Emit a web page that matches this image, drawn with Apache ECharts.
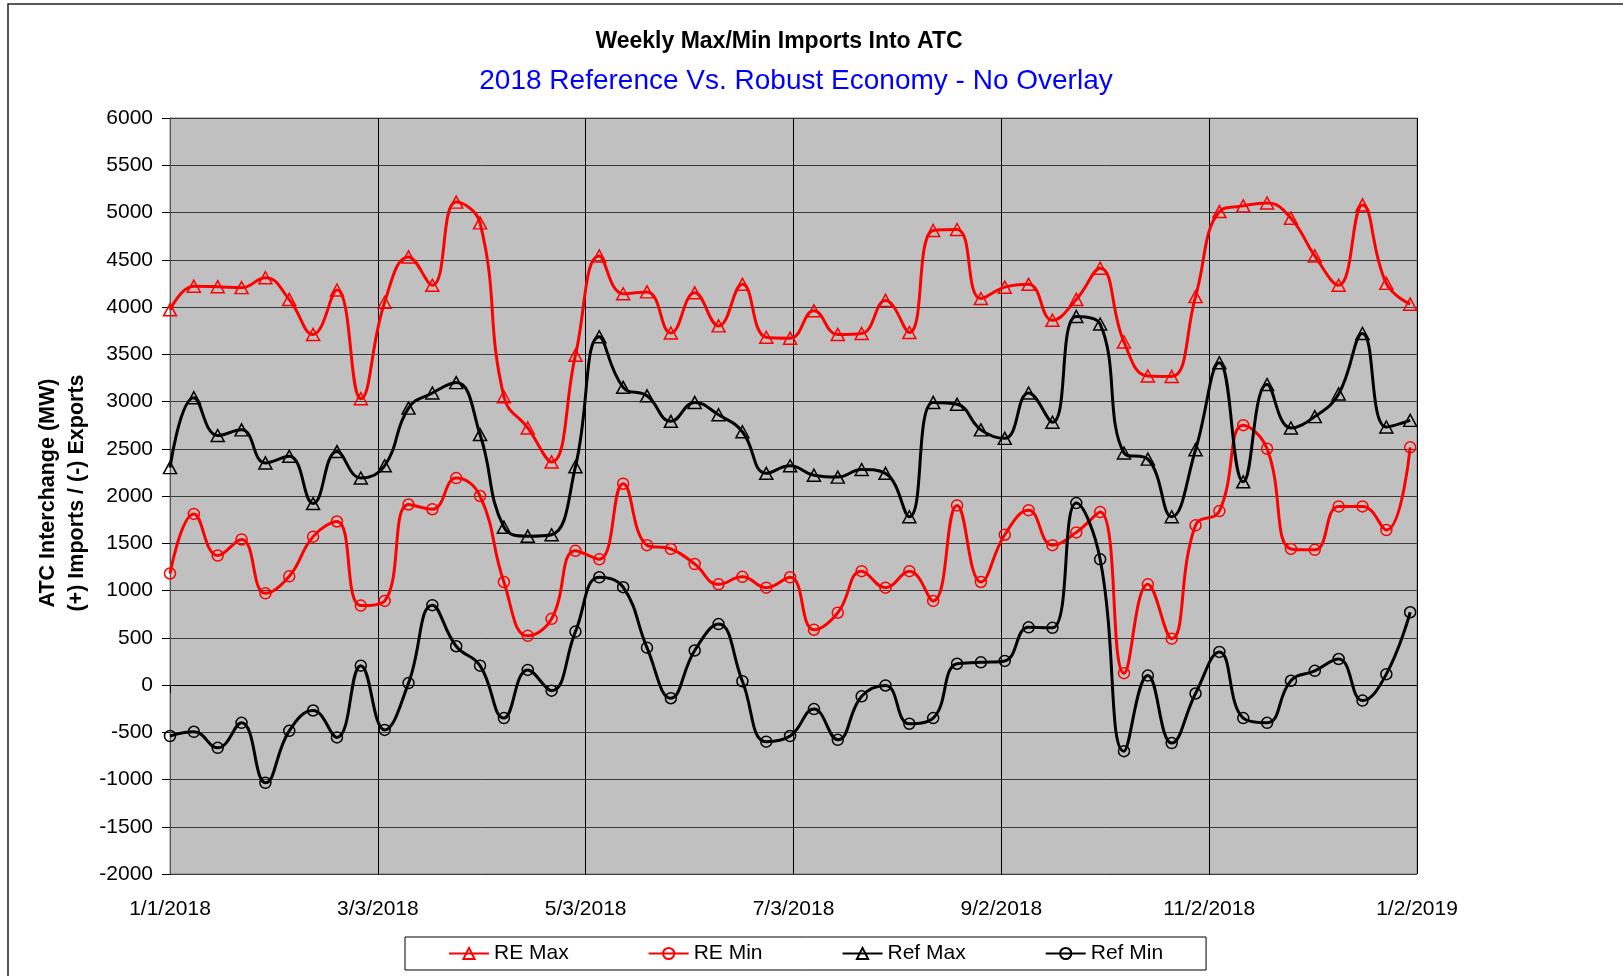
<!DOCTYPE html>
<html>
<head>
<meta charset="utf-8">
<script src="https://cdn.jsdelivr.net/npm/echarts@6/dist/echarts.min.js"></script>
<style>
  html, body { margin: 0; padding: 0; background: #fff; }
  #chart { width: 1623px; height: 976px; }
</style>
</head>
<body>
<div id="chart"></div>
<script>
// weekly sample dates (Mondays of 2018)
const weeks = [
  '2018-01-01', '2018-01-08', '2018-01-15', '2018-01-22', '2018-01-29',
  '2018-02-05', '2018-02-12', '2018-02-19', '2018-02-26',
  '2018-03-05', '2018-03-12', '2018-03-19', '2018-03-26',
  '2018-04-02', '2018-04-09', '2018-04-16', '2018-04-23', '2018-04-30',
  '2018-05-07', '2018-05-14', '2018-05-21', '2018-05-28',
  '2018-06-04', '2018-06-11', '2018-06-18', '2018-06-25',
  '2018-07-02', '2018-07-09', '2018-07-16', '2018-07-23', '2018-07-30',
  '2018-08-06', '2018-08-13', '2018-08-20', '2018-08-27',
  '2018-09-03', '2018-09-10', '2018-09-17', '2018-09-24',
  '2018-10-01', '2018-10-08', '2018-10-15', '2018-10-22', '2018-10-29',
  '2018-11-05', '2018-11-12', '2018-11-19', '2018-11-26',
  '2018-12-03', '2018-12-10', '2018-12-17', '2018-12-24', '2018-12-31'
]

const reMax = [3970, 4220, 4215, 4205, 4310, 4080, 3710, 4180, 3030, 4050, 4530, 4230, 5110, 4890, 3050, 2720, 2360, 3490,
  4540, 4140, 4160, 3725, 4150, 3800, 4240, 3680, 3670, 3960, 3710, 3720, 4070, 3730, 4810, 4820, 4090, 4210,
  4240, 3860, 4080, 4410, 3630, 3270, 3265, 4110, 5010, 5070, 5100, 4940, 4540, 4230, 5080, 4250, 4030]

const reMin = [1180, 1810, 1370, 1540, 970, 1150, 1570, 1730, 840, 890, 1910, 1860, 2190, 2000, 1090, 520, 700, 1420,
  1330, 2130, 1480, 1440, 1280, 1065, 1145, 1030, 1140, 585, 765, 1205, 1030, 1205, 890, 1900, 1090, 1590,
  1850, 1480, 1615, 1830, 125, 1065, 490, 1690, 1840, 2750, 2500, 1440, 1430, 1890, 1890, 1640, 2515]

const refMax = [2300, 3040, 2640, 2700, 2350, 2420, 1920, 2470, 2190, 2320, 2930, 3090, 3200, 2650, 1670, 1575, 1590, 2310,
  3685, 3150, 3060, 2790, 2990, 2860, 2680, 2240, 2320, 2220, 2200, 2280, 2240, 1780, 2990, 2970, 2700, 2610,
  3090, 2780, 3900, 3820, 2455, 2390, 1780, 2490, 3410, 2150, 3180, 2720, 2840, 3080, 3720, 2730, 2800]

const refMin = [-540, -495, -665, -400, -1035, -485, -270, -555, 205, -475, 20, 845, 410, 205, -350, 160, -60, 565,
  1140, 1035, 395, -140, 365, 645, 40, -600, -540, -255, -580, -120, -5, -410, -350, 225, 240, 255,
  610, 605, 1925, 1330, -700, 100, -615, -90, 350, -350, -400, 45, 150, 275, -165, 115, 770]

// x axis: days since 1/1/2018, a tick every 61 days
const xTickLabels = ['1/1/2018', '3/3/2018', '5/3/2018', '7/3/2018', '9/2/2018', '11/2/2018', '1/2/2019']

const start = Date.UTC(2018, 0, 1)
const dayOf = (s) => (Date.parse(s + 'T00:00:00Z') - start) / 86400000
const pairs = (vals) => vals.map((v, i) => [dayOf(weeks[i]), v])

const font = 'Liberation Sans, Arial, sans-serif'

const chart = echarts.init(document.getElementById('chart'))

const mkSeries = (name, vals, color, symbol, size) => ({
  name,
  type: 'line',
  data: pairs(vals),
  smooth: 0.45,
  symbol,
  symbolSize: size,
  showSymbol: true,
  lineStyle: { color, width: 3 },
  itemStyle: { color: 'rgba(0,0,0,0)', borderColor: color, borderWidth: 1.5 },
  emphasis: { disabled: true }
})

const option = {
  animation: false,
  textStyle: { fontFamily: font },
  graphic: [
    {
      type: 'rect',
      shape: { x: 8, y: 4, width: 1700, height: 1100 },
      style: { fill: 'none', stroke: '#222', lineWidth: 1.5 },
      silent: true
    },
    {
      type: 'text',
      x: 779, y: 42,
      style: {
        text: 'Weekly Max/Min Imports Into ATC',
        font: 'bold 23px ' + font,
        fill: '#000',
        textAlign: 'center',
        textVerticalAlign: 'middle'
      }
    },
    {
      type: 'text',
      x: 796, y: 81,
      style: {
        text: '2018 Reference Vs. Robust Economy - No Overlay',
        font: '28px ' + font,
        fill: '#0000ff',
        textAlign: 'center',
        textVerticalAlign: 'middle'
      }
    },
    {
      type: 'text',
      x: 63, y: 493,
      rotation: Math.PI / 2,
      style: {
        text: 'ATC Interchange (MW)\n(+) Imports / (-) Exports',
        font: 'bold 21.5px ' + font,
        fill: '#000',
        lineHeight: 29,
        textAlign: 'center',
        textVerticalAlign: 'middle'
      }
    }
  ],
  legend: {
    data: ['RE Max', 'RE Min', 'Ref Max', 'Ref Min'],
    left: 405,
    top: 937,
    orient: 'horizontal',
    padding: [6, 43],
    itemGap: 79,
    itemWidth: 40,
    itemHeight: 14,
    borderColor: '#000',
    borderWidth: 1,
    backgroundColor: '#fff',
    selectedMode: false,
    textStyle: { fontSize: 21, color: '#000', fontFamily: font }
  },
  grid: {
    left: 170,
    top: 118,
    right: 206,
    bottom: 102,
    show: true,
    backgroundColor: '#c0c0c0',
    borderColor: '#808080',
    borderWidth: 1
  },
  xAxis: {
    type: 'value',
    min: 0,
    max: 366,
    interval: 61,
    axisLine: { show: true, lineStyle: { color: '#000', width: 1 } },
    axisTick: { show: true, length: 8, lineStyle: { color: '#000' } },
    axisLabel: {
      margin: 25,
      fontSize: 21,
      color: '#000',
      fontFamily: font,
      formatter: (v) => xTickLabels[Math.round(v / 61)] || ''
    },
    splitLine: { show: true, lineStyle: { color: '#000', width: 1 } }
  },
  yAxis: {
    type: 'value',
    min: -2000,
    max: 6000,
    interval: 500,
    axisLine: { show: true, lineStyle: { color: '#555', width: 1 } },
    axisTick: { show: true, length: 8, lineStyle: { color: '#000' } },
    axisLabel: {
      margin: 17,
      fontSize: 21,
      color: '#000',
      fontFamily: font,
      formatter: (v) => String(v)
    },
    splitLine: { show: true, lineStyle: { color: '#3a3a3a', width: 1 } }
  },
  series: [
    mkSeries('RE Max', reMax, '#ff0000', 'triangle', [13, 12]),
    mkSeries('RE Min', reMin, '#ff0000', 'circle', 11),
    mkSeries('Ref Max', refMax, '#000000', 'triangle', [13, 12]),
    mkSeries('Ref Min', refMin, '#000000', 'circle', 11)
  ]
}

chart.setOption(option)
window.addEventListener('resize', () => chart.resize())
</script>
</body>
</html>
